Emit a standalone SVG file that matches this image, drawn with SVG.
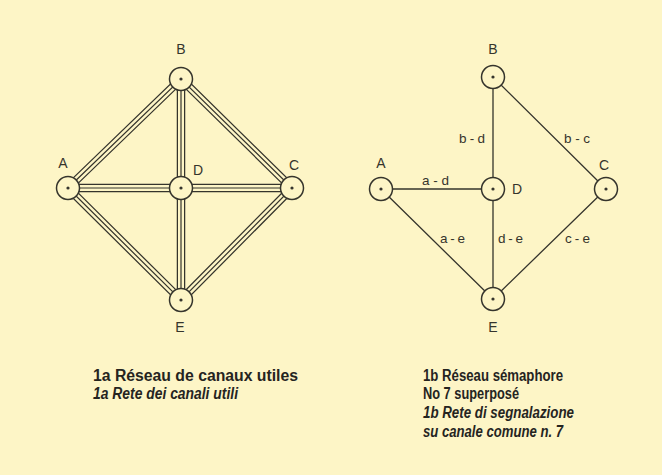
<svg xmlns="http://www.w3.org/2000/svg" width="662" height="475" viewBox="0 0 662 475">
<style>
.bg{fill:#fdf5c6}
.n circle.o{fill:#fdf5c6;stroke:#35342c;stroke-width:1.5}
.n circle.d{fill:#35342c}
.lbl{font-family:"Liberation Sans","DejaVu Sans",sans-serif;font-size:14px;fill:#35342c;text-anchor:middle}
.el{font-family:"Liberation Sans","DejaVu Sans",sans-serif;font-size:13.5px;fill:#35342c}
.w1{stroke:#35342c;stroke-width:8.5;fill:none}
.w2{stroke:#fdf5c6;stroke-width:6;fill:none}
.w3{stroke:#35342c;stroke-width:1.2;fill:none}
.s{stroke:#35342c;stroke-width:1.3;fill:none}
.cap{font-family:"Liberation Sans Narrow","Liberation Sans",sans-serif;font-size:16px;font-weight:bold;fill:#25241f}
.it{font-style:italic}
</style>
<defs>
<path id="lt" d="M68,188 L181,79 L292,188 L181,300 Z M68,188 L292,188 M181,79 L181,300"/>
</defs>
<rect class="bg" x="0" y="0" width="662" height="475"/>
<g id="connectors">
<use href="#lt" class="w1"/>
<use href="#lt" class="w2"/>
<use href="#lt" class="w3"/>
<path class="s" d="M381,189 L493,189 M493,77 L493,299 M493,77 L606,189 M381,189 L493,299 M606,189 L493,299"/>
<text class="el" x="459" y="143" textLength="26" lengthAdjust="spacing">b-d</text>
<text class="el" x="564" y="143" textLength="26" lengthAdjust="spacing">b-c</text>
<text class="el" x="422" y="185" textLength="27" lengthAdjust="spacing">a-d</text>
<text class="el" x="440" y="242.5" textLength="25" lengthAdjust="spacing">a-e</text>
<text class="el" x="498" y="242.5" textLength="25" lengthAdjust="spacing">d-e</text>
<text class="el" x="565" y="242.5" textLength="25" lengthAdjust="spacing">c-e</text>
</g>
<g id="la-A" class="n"><circle class="o" cx="68" cy="188" r="11.5"/><circle class="d" cx="68" cy="188" r="1.6"/><text class="lbl" x="63" y="168">A</text></g>
<g id="la-B" class="n"><circle class="o" cx="181" cy="79" r="11.5"/><circle class="d" cx="181" cy="79" r="1.6"/><text class="lbl" x="181" y="54">B</text></g>
<g id="la-C" class="n"><circle class="o" cx="292" cy="188" r="11.5"/><circle class="d" cx="292" cy="188" r="1.6"/><text class="lbl" x="294" y="170">C</text></g>
<g id="la-D" class="n"><circle class="o" cx="181" cy="188" r="11.5"/><circle class="d" cx="181" cy="188" r="1.6"/><text class="lbl" x="198" y="175">D</text></g>
<g id="la-E" class="n"><circle class="o" cx="181" cy="300" r="11.5"/><circle class="d" cx="181" cy="300" r="1.6"/><text class="lbl" x="180" y="332">E</text></g>
<g id="lb-A" class="n"><circle class="o" cx="381" cy="189" r="11.5"/><circle class="d" cx="381" cy="189" r="1.6"/><text class="lbl" x="381" y="168">A</text></g>
<g id="lb-B" class="n"><circle class="o" cx="493" cy="77" r="11.5"/><circle class="d" cx="493" cy="77" r="1.6"/><text class="lbl" x="493" y="54">B</text></g>
<g id="lb-C" class="n"><circle class="o" cx="606" cy="189" r="11.5"/><circle class="d" cx="606" cy="189" r="1.6"/><text class="lbl" x="604" y="170">C</text></g>
<g id="lb-D" class="n"><circle class="o" cx="493" cy="189" r="11.5"/><circle class="d" cx="493" cy="189" r="1.6"/><text class="lbl" x="517" y="194">D</text></g>
<g id="lb-E" class="n"><circle class="o" cx="493" cy="299" r="11.5"/><circle class="d" cx="493" cy="299" r="1.6"/><text class="lbl" x="493" y="332">E</text></g>
<g id="caption-a">
<text class="cap" x="93" y="380.5" textLength="205" lengthAdjust="spacingAndGlyphs">1a Réseau de canaux utiles</text>
<text class="cap it" x="93" y="398.5" textLength="145" lengthAdjust="spacingAndGlyphs">1a Rete dei canali utili</text>
</g>
<g id="caption-b">
<text class="cap" x="423" y="380.5" textLength="140" lengthAdjust="spacingAndGlyphs">1b Réseau sémaphore</text>
<text class="cap" x="423" y="399" textLength="96" lengthAdjust="spacingAndGlyphs">No 7 superposé</text>
<text class="cap it" x="423" y="417.5" textLength="151" lengthAdjust="spacingAndGlyphs">1b Rete di segnalazione</text>
<text class="cap it" x="423" y="436.5" textLength="140" lengthAdjust="spacingAndGlyphs">su canale comune n. 7</text>
</g>
</svg>
